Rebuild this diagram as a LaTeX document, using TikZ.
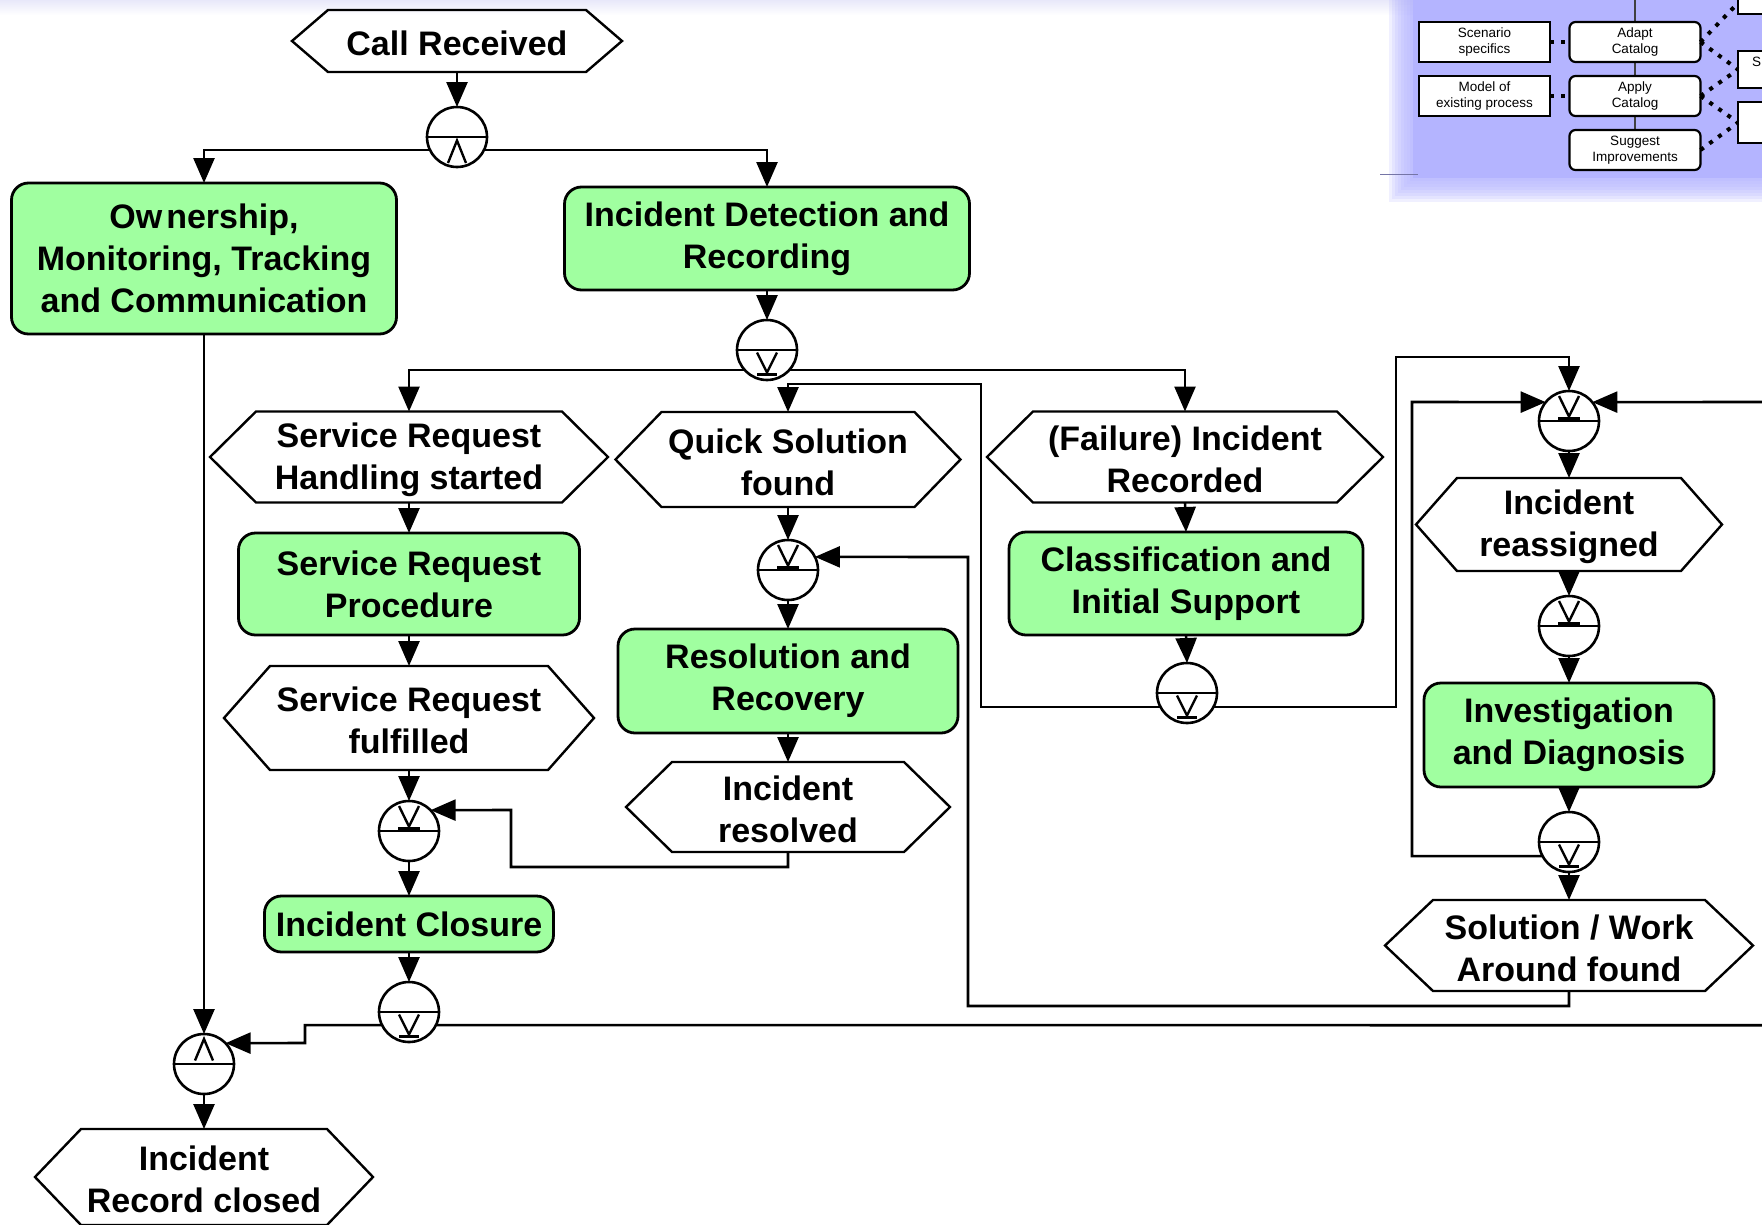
\documentclass[tikz,border=0pt]{standalone}
\usepackage{fontspec}
\setmainfont{Liberation Sans}
\usetikzlibrary{arrows.meta}
\definecolor{fngreen}{RGB}{160,255,160}
\definecolor{panelblue}{RGB}{180,180,255}
\definecolor{bandblue}{RGB}{232,232,250}

% event: hexagon outline around a borderless frame node, text set a little low
% #1 name, #2 x, #3 y, #4 width, #5 height, #6 slant, #7 text
\newcommand\evtnode[7]{%
  \node[evt, minimum width=#4pt, minimum height=#5pt] (#1) at (#2,#3) {};
  \node[big, inner sep=0pt] (#1-text) at ([yshift=-2.5pt]#1.center) {#7};
  \draw[evtline] ([xshift=#6pt]#1.north west) -- ([xshift=-#6pt]#1.north east) -- (#1.east)
    -- ([xshift=-#6pt]#1.south east) -- ([xshift=#6pt]#1.south west) -- (#1.west) -- cycle;}

\begin{document}
\begin{tikzpicture}[x=1pt,y=-1pt,
  big/.style={font=\bfseries\fontsize{34}{42}\selectfont, align=center},
  evt/.style={big, rectangle, inner sep=0pt, outer sep=0pt},
  evtline/.style={line width=2.4pt, line join=miter},
  fn/.style={big, rectangle, rounded corners=17pt, draw, line width=2.8pt, fill=fngreen,
    inner sep=0pt, outer sep=0pt},
  gw/.style={circle, draw, line width=2.6pt, fill=white, minimum size=60pt,
    inner sep=0pt, outer sep=0pt},
  flow/.style={line width=2.6pt, -{Triangle[length=25pt,width=21pt]}},
  link/.style={line width=2.6pt},
  gsym/.style={line width=2.4pt, line join=miter},
  ibox/.style={rectangle, draw, line width=2.2pt, fill=white, minimum width=131pt,
    minimum height=40pt, inner sep=0pt, outer sep=0pt, align=center,
    font=\fontsize{13.5}{16}\selectfont},
  ifn/.style={ibox, rounded corners=6pt},
  idot/.style={line width=4pt, dash pattern=on 4pt off 7pt},
  pics/xorjoin/.style={code={
    \draw[gsym] (-30,0) -- (30,0);
    \draw[gsym] (-10,-25) -- (0,-4.5) -- (10,-25);
    \fill (-11,-4.4) rectangle (11,-1.3);}},
  pics/xorsplit/.style={code={
    \draw[gsym] (-30,0) -- (30,0);
    \draw[gsym] (-10,2.5) -- (0,22.5) -- (10,2.5);
    \fill (-10,22.5) rectangle (10,25.8);}},
  pics/andsplit/.style={code={
    \draw[gsym] (-30,0) -- (30,0);
    \draw[gsym] (-9,26) -- (0,3.5) -- (9,26);}},
  pics/andjoin/.style={code={
    \draw[gsym] (-30,0) -- (30,0);
    \draw[gsym] (-9,-3.5) -- (0,-25) -- (9,-3.5);}}
]
\useasboundingbox (0,0) rectangle (1762,1224);
\clip (0,0) rectangle (1762,1224);

% faint band along the top edge
\shade[top color=bandblue, bottom color=white] (0,0) rectangle (1762,15);

% ---------- catalogue panel, top right ----------
\foreach \i in {1,...,8} {
  \fill[panelblue, opacity=0.2] (1413-3*\i,0) rectangle (1762,178+3*\i);
}
\fill[panelblue] (1413,0) rectangle (1762,178);
\draw[line width=1pt, black!35!panelblue] (1380,174) -- (1418,174);
\draw[line width=1.2pt, black!75] (1635,0) -- (1635,130);

\node[ibox] (scen) at (1484.5,42) {Scenario\\specifics};
\node[ibox] (model) at (1484.5,96) {Model of\\existing process};
\node[ifn] (adapt) at (1635,42) {Adapt\\Catalog};
\node[ifn] (apply) at (1635,96) {Apply\\Catalog};
\node[ifn] (sugg) at (1635,150) {Suggest\\Improvements};
\node[ibox, anchor=north west, minimum width=80pt, minimum height=44pt] (rtop) at (1738,-30) {};
\node[ibox, anchor=north west, minimum width=80pt, minimum height=37pt] (rmid) at (1738,51) {};
\node[ibox, anchor=north west, minimum width=80pt, minimum height=41pt] (rbot) at (1738,102) {};
\node[anchor=base west, inner sep=0pt, font=\fontsize{13.5}{16}\selectfont] (rmidtxt) at (1752,66) {S};

\draw[idot] (scen.east) -- (adapt.west);
\draw[idot] (model.east) -- (apply.west);
\draw[idot] (adapt.east) -- ([yshift=11pt]rtop.south west);
\draw[idot] (adapt.east) -- (rmid.west);
\draw[idot] (apply.east) -- (rmid.west);
\draw[idot] (apply.east) -- (rbot.west);
\draw[idot] (sugg.east) -- (rbot.west);

% ---------- events ----------
\evtnode{callrec}{457}{41}{330}{62}{36}{Call Received}
\evtnode{srstart}{409}{457}{398}{91}{46}{Service Request\\Handling started}
\evtnode{quick}{788}{459.5}{345}{95}{46}{Quick Solution\\found}
\evtnode{failrec}{1185}{457}{396}{91}{46}{(Failure) Incident\\Recorded}
\evtnode{reassigned}{1569}{524.5}{306}{93}{41}{Incident\\reassigned}
\evtnode{srfulfilled}{409}{718}{370}{104}{46}{Service Request\\fulfilled}
\evtnode{resolved}{788}{807}{324}{90}{46}{Incident\\resolved}
\evtnode{solution}{1569}{945.5}{368}{91}{48}{Solution / Work\\Around found}
\evtnode{closed}{204}{1177}{338}{96}{46}{Incident\\Record closed}

% ---------- functions ----------
\node[fn, minimum width=385pt, minimum height=151pt] (own) at (204,258.5)
  {Ow\kern4pt nership,\\Monitoring, Tracking\\and Communication};
\node[fn, minimum width=405pt, minimum height=103pt] (detect) at (767,238.5)
  {Incident Detection and\\Recording};
\node[fn, minimum width=341pt, minimum height=102pt] (srproc) at (409,584)
  {Service Request\\Procedure};
\node[fn, minimum width=340pt, minimum height=104pt] (resol) at (788,681)
  {Resolution and\\Recovery};
\node[fn, minimum width=354pt, minimum height=103pt] (classif) at (1186,583.5)
  {Classification and\\Initial Support};
\node[fn, minimum width=290pt, minimum height=104pt] (invest) at (1569,735)
  {Investigation\\and Diagnosis};
\node[fn, minimum width=289pt, minimum height=56pt] (closure) at (409,924)
  {Incident Closure};

% ---------- gateways ----------
\node[gw] (g1) at (457,137) {};   \pic at (g1) {andsplit};
\node[gw] (g2) at (767,350) {};   \pic at (g2) {xorsplit};
\node[gw] (g3) at (788,570) {};   \pic at (g3) {xorjoin};
\node[gw] (g4) at (1187,693) {};  \pic at (g4) {xorsplit};
\node[gw] (g5) at (1569,421) {};  \pic at (g5) {xorjoin};
\node[gw] (g6) at (1569,626) {};  \pic at (g6) {xorjoin};
\node[gw] (g7) at (1569,842) {};  \pic at (g7) {xorsplit};
\node[gw] (g8) at (409,831) {};   \pic at (g8) {xorjoin};
\node[gw] (g9) at (409,1012) {};  \pic at (g9) {xorsplit};
\node[gw] (g10) at (204,1064) {}; \pic at (g10) {andjoin};

\coordinate (offR) at (1762,402);
\coordinate (offB) at (1762,1025.2);

% ---------- control flow ----------
\draw[flow] (callrec.south) -- (g1.north);
\draw[flow] (g1.206) -| (own.north);
\draw[flow] (g1.-26) -| (detect.north);
\draw[flow] (detect.south) -- (g2.north);
\draw[flow] (g2.222) -| (srstart.north);
\draw[flow] (g2.-42) -| (failrec.north);

\draw[flow] (srstart.south) -- (srproc.north);
\draw[flow] (srproc.south) -- (srfulfilled.north);
\draw[flow] (srfulfilled.south) -- (g8.north);
\draw[flow] (g8.south) -- (closure.north);
\draw[flow] (closure.south) -- (g9.north);

\draw[flow] (quick.south) -- (g3.north);
\draw[flow] (g3.south) -- (resol.north);
\draw[flow] (resol.south) -- (resolved.north);
\draw[flow] (resolved.south) -- ++(0,15) -| (511,810) -- (g8.44);

\draw[flow] (failrec.south) -- (classif.north);
\draw[flow] (classif.south) -- (g4.north);
\draw[flow] (g4.208) -| (981,384) -| (quick.north);
\draw[flow] (g4.-28) -| (1396,357) -| (g5.north);

\draw[flow] (g5.south) -- (reassigned.north);
\draw[flow] (reassigned.south) -- (g6.north);
\draw[flow] (g6.south) -- (invest.north);
\draw[flow] (invest.south) -- (g7.north);
\draw[flow] (g7.south) -- (solution.north);
\draw[flow] (g7.208) -| (1412,402) -- (g5.141);
\draw[flow] (offR) -- (g5.39);
\draw[flow] (solution.south) -- ++(0,15) -| (968,557) -- (g3.26);

\draw[flow] (own.south) -- (g10.north);
\draw[flow] (g9.206) -| (305,1043) -- (g10.44);
\draw[link] (g9.-26) -- (offB);
\draw[flow] (g10.south) -- (closed.north);
\end{tikzpicture}
\end{document}
